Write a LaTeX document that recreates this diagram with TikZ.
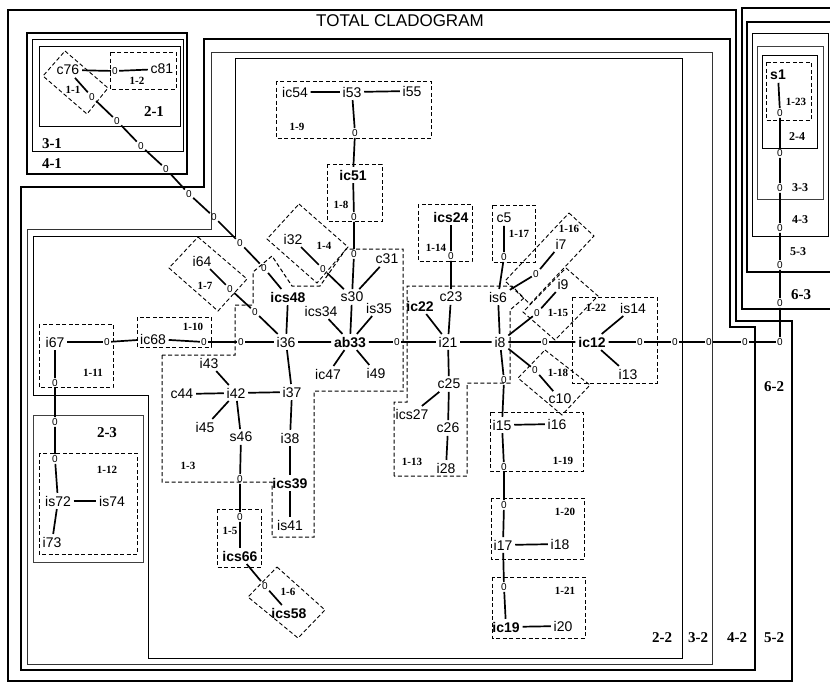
\documentclass[tikz,border=0pt]{standalone}
\usepackage{fontspec}
\setmainfont{Liberation Serif}
\setsansfont{Liberation Sans}
\begin{document}
\begin{tikzpicture}[x=1pt, y=-1pt, line width=0.8pt,
  taxon/.style={font=\sffamily\fontsize{14}{14}\selectfont, inner sep=2.5pt},
  btaxon/.style={font=\sffamily\bfseries\fontsize{14}{14}\selectfont, inner sep=2.5pt},
  zerolab/.style={font=\sffamily\fontsize{10}{10}\selectfont, inner sep=1pt},
  onestep/.style={font=\bfseries\fontsize{11}{11}\selectfont, inner sep=0pt},
  nstep/.style={font=\bfseries\fontsize{15}{15}\selectfont, inner sep=0pt},
  sstep/.style={font=\bfseries\fontsize{12}{12}\selectfont, inner sep=0pt},
  link/.style={line width=1.7pt},
  clade1/.style={line width=0.9pt, dash pattern=on 4pt off 2.5pt}]
  \useasboundingbox (0,0) rectangle (830,683);
  \clip (0,0) rectangle (830,683);
  \fill[white] (0,0) rectangle (830,683);
  % nested clade frames
  \draw[line width=2.6pt] (8,10) -- (736,10) -- (736,321) -- (792,321) -- (792,681) -- (8,681) -- cycle;
  \draw[line width=1.6pt] (21,187) -- (204,187) -- (204,39) -- (730,39) -- (730,327) -- (755,327) -- (755,670) -- (21,670) -- cycle;
  \draw[line width=1pt, black!80] (27,229) -- (211,229) -- (211,52) -- (712,52) -- (712,664) -- (27,664) -- cycle;
  \draw[line width=0.7pt] (33,236) -- (235,236) -- (235,58) -- (682,58) -- (682,658) -- (148,658) -- (148,395) -- (33,395) -- cycle;
  \draw[line width=1pt, black!75] (33,415) rectangle (143,562);
  \draw[line width=1.6pt] (27,33) rectangle (187,174);
  \draw[line width=1pt] (32,39) rectangle (183,151);
  \draw[line width=0.8pt] (39,46) rectangle (180,126);
  \draw[line width=2.6pt] (742,8) rectangle (834,309);
  \draw[line width=1.6pt] (747,22) rectangle (834,272);
  \draw[line width=1pt] (752,33) rectangle (828,236);
  \draw[line width=1pt, black!75] (757,46) rectangle (823,199);
  \draw[line width=0.8pt] (762,55) rectangle (817,148);
  % one-step clades
  \draw[clade1] (110,52) rectangle (176,89);
  \draw[clade1] (327,164) rectangle (382,221);
  \draw[clade1] (276,81) rectangle (431,138);
  \draw[clade1] (137,317) rectangle (211,347);
  \draw[clade1] (39,324) rectangle (113,387);
  \draw[clade1] (39,453) rectangle (137,554);
  \draw[clade1] (217,509) rectangle (261,567);
  \draw[clade1] (418,204) rectangle (472,261);
  \draw[clade1] (492,205) rectangle (535,262);
  \draw[clade1] (572,297) rectangle (657,383);
  \draw[clade1] (490,412) rectangle (583,471);
  \draw[clade1] (491,498) rectangle (584,559);
  \draw[clade1] (492,577) rectangle (585,638);
  \draw[clade1] (766,62) rectangle (811,120);
  \draw[clade1] (65,51) -- (108,88) -- (87,114) -- (43,76) -- cycle;
  \draw[clade1] (299,204) -- (348,247) -- (317,283) -- (267,239) -- cycle;
  \draw[clade1] (198,237) -- (247,279) -- (218,311) -- (169,268) -- cycle;
  \draw[clade1] (277,567) -- (325,610) -- (298,638) -- (248,597) -- cycle;
  \draw[clade1] (569,213) -- (594,236) -- (530,304) -- (505,281) -- cycle;
  \draw[clade1] (566,268) -- (598,296) -- (555,340) -- (523,312) -- cycle;
  \draw[clade1] (545,350) -- (590,385) -- (562,415) -- (518,378) -- cycle;
  \draw[clade1, line width=1pt] (162,355) -- (162,482) -- (272,482) -- (272,537) -- (314,537) -- (314,391) -- (403,391) -- (403,249)
    -- (346,249) -- (320,286) -- (292,286) -- (272,256) -- (253,272) -- (253,305) -- (235,305) -- (235,355) -- cycle;
  \draw[clade1, line width=1pt] (394,476) -- (394,402) -- (407,402) -- (407,286) -- (512,286) -- (524,298) -- (510,310)
    -- (510,383) -- (467,383) -- (467,476) -- cycle;
  % haplotypes
  \foreach \n/\x/\y in {c76/68/70, c81/162/69, ic54/295/92, i53/352/92, i55/412/91, i32/293/239, c31/387/259,
      s30/352/297, i64/202/261, ics34/321/311, is35/379/308, i36/286/342, ic47/328/374, i49/376/373, i67/55/342,
      ic68/153/339, i43/209/363, c44/182/394, i42/236/393, i37/292/392, i45/205/427, s46/241/437, i38/290/438,
      is41/290/525, is72/58/501, is74/112/501, i73/52/542, c23/451/297, i21/448/342, c25/449/384, ics27/412/414,
      c26/448/428, i28/446/468, c5/504/218, is6/498/297, i7/561/244, i9/563/284, i8/500/342, c10/560/399,
      is14/633/308, i13/628/374, i15/502/425, i16/557/424, i17/503/545, i18/560/544, i20/563/626}
    \node[taxon] (\n) at (\x,\y) {\n};
  \foreach \n/\x/\y in {ic51/353/175, ics48/288/297, ab33/350/342, ics39/290/483, ics66/240/556, ics58/289/613,
      ics24/451/217, ic22/420/306, ic12/592/342, ic19/506/627, s1/778/75}
    \node[btaxon] (\n) at (\x,\y) {\n};
  % missing intermediates
  \foreach \n/\x/\y in {z0/115/71, za1/92/97, za2/117/121, za3/141/146, za4/166/169, za5/189/194, za6/214/217,
      za7/240/243, za8/264/268, zb1/230/289, zb2/255/312, zc/323/269, zd1/355/133, zd2/354/217, zd3/354/254,
      ze1/241/342, ze2/204/342, ze3/107/342, zf1/55/383, zf2/55/422, zf3/55/459, zg1/240/479, zg2/240/517,
      zh/265/586, zi/397/342, zj/451/256, zk/504/257, zl/536/274, zm/537/313, zn/545/342, zo/535/370,
      zp1/504/380, zp2/504/467, zp3/504/505, zp4/504/587, zq1/640/342, zq2/675/342, zq3/709/342, zq4/745/342,
      zq5/780/342, zr1/780/113, zr2/780/153, zr3/780/188, zr4/780/228, zr5/780/265, zr6/780/303}
    \node[zerolab] (\n) at (\x,\y) {0};
  % connectors
  \draw[link] (c76) -- (z0) -- (c81);
  \draw[link] (c76) -- (za1) -- (za2) -- (za3) -- (za4) -- (za5) -- (za6) -- (za7) -- (za8) -- (ics48);
  \draw[link] (i64) -- (zb1) -- (zb2) -- (i36);
  \draw[link] (i32) -- (zc) -- (s30);
  \draw[link] (ic54) -- (i53) -- (i55);
  \draw[link] (i53) -- (zd1) -- (ic51) -- (zd2) -- (zd3) -- (s30);
  \draw[link] (ics48) -- (i36) -- (i37) -- (i38) -- (ics39) -- (is41);
  \draw[link] (i36) -- (ze1) -- (ze2) -- (ic68) -- (ze3) -- (i67) -- (zf1) -- (zf2) -- (zf3) -- (is72) -- (i73);
  \draw[link] (is72) -- (is74);
  \draw[link] (i36) -- (ab33) -- (zi) -- (i21) -- (i8) -- (zn) -- (ic12) -- (zq1) -- (zq2) -- (zq3) -- (zq4) -- (zq5)
    -- (zr6) -- (zr5) -- (zr4) -- (zr3) -- (zr2) -- (zr1) -- (s1);
  \draw[link] (i43) -- (i42) -- (i37);
  \draw[link] (c44) -- (i42) -- (i45);
  \draw[link] (i42) -- (s46) -- (zg1) -- (zg2) -- (ics66) -- (zh) -- (ics58);
  \draw[link] (ab33) -- (s30) -- (c31);
  \draw[link] (ics34) -- (ab33) -- (is35);
  \draw[link] (ic47) -- (ab33) -- (i49);
  \draw[link] (ic22) -- (i21) -- (c23) -- (zj) -- (ics24);
  \draw[link] (i21) -- (c25) -- (c26) -- (i28);
  \draw[link] (c25) -- (ics27);
  \draw[link] (i8) -- (is6) -- (zk) -- (c5);
  \draw[link] (is6) -- (zl) -- (i7);
  \draw[link] (i8) -- (zm) -- (i9);
  \draw[link] (i8) -- (zo) -- (c10);
  \draw[link] (i8) -- (zp1) -- (i15) -- (zp2) -- (zp3) -- (i17) -- (zp4) -- (ic19) -- (i20);
  \draw[link] (i15) -- (i16);
  \draw[link] (i17) -- (i18);
  \draw[link] (is14) -- (ic12) -- (i13);
  % clade labels
  \foreach \k/\x/\y in {1/73/90, 2/137/81, 3/188/466, 4/324/246, 5/230/531, 6/288/592, 7/205/286, 8/341/205,
      9/297/127, 10/193/327, 11/93/373, 12/107/470, 13/412/462, 14/436/248, 15/558/313, 16/569/229, 17/519/234,
      18/558/373, 19/563/461, 20/565/512, 21/565/591, 22/596/308, 23/796/102}
    \node[onestep] (one\k) at (\x,\y) {1-\k};
  \node[nstep] (two1) at (154,112) {2-1};
  \node[nstep] (three1) at (52,144) {3-1};
  \node[nstep] (four1) at (52,164) {4-1};
  \node[nstep] (two3) at (107,433) {2-3};
  \node[nstep] (two2) at (662,638) {2-2};
  \node[nstep] (three2) at (698,638) {3-2};
  \node[nstep] (four2) at (737,638) {4-2};
  \node[nstep] (five2) at (774,638) {5-2};
  \node[nstep] (six2) at (774,387) {6-2};
  \node[nstep] (six3) at (801,295) {6-3};
  \node[sstep] (five3) at (798,252) {5-3};
  \node[sstep] (four3) at (800,220) {4-3};
  \node[sstep] (three3) at (800,188) {3-3};
  \node[sstep] (two4) at (797,137) {2-4};
  \node[font=\sffamily\fontsize{17}{17}\selectfont] (total) at (400,21) {TOTAL CLADOGRAM};
\end{tikzpicture}
\end{document}
